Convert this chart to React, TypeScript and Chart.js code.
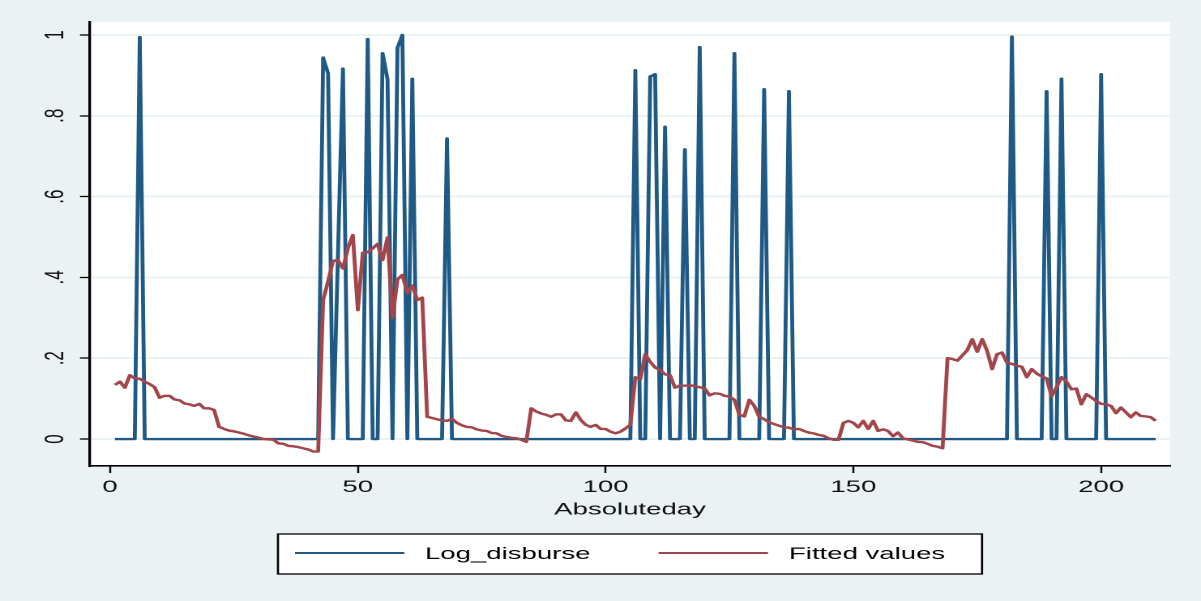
import React, { useEffect, useRef } from 'react';
import { Chart, registerables } from 'chart.js';

Chart.register(...registerables);

// Absoluteday of every observation
const days: number[] = Array.from({ length: 211 }, (_, i) => i + 1);

// Log_disburse, one value per day
const logDisburse: number[] = [
  // 1-10
  0, 0, 0, 0, 0, 0.995, 0, 0, 0, 0,
  // 11-20
  0, 0, 0, 0, 0, 0, 0, 0, 0, 0,
  // 21-30
  0, 0, 0, 0, 0, 0, 0, 0, 0, 0,
  // 31-40
  0, 0, 0, 0, 0, 0, 0, 0, 0, 0,
  // 41-50
  0, 0, 0.944, 0.905, 0, 0.46, 0.917, 0, 0, 0,
  // 51-60
  0, 0.99, 0, 0, 0.955, 0.89, 0, 0.968, 1.0, 0,
  // 61-70
  0.892, 0, 0, 0, 0, 0, 0, 0.744, 0, 0,
  // 71-80
  0, 0, 0, 0, 0, 0, 0, 0, 0, 0,
  // 81-90
  0, 0, 0, 0, 0, 0, 0, 0, 0, 0,
  // 91-100
  0, 0, 0, 0, 0, 0, 0, 0, 0, 0,
  // 101-110
  0, 0, 0, 0, 0, 0.913, 0, 0, 0.897, 0.903,
  // 111-120
  0, 0.773, 0, 0, 0, 0.717, 0, 0, 0.97, 0,
  // 121-130
  0, 0, 0, 0, 0, 0.955, 0, 0, 0, 0,
  // 131-140
  0, 0.866, 0, 0, 0, 0, 0.861, 0, 0, 0,
  // 141-150
  0, 0, 0, 0, 0, 0, 0, 0, 0, 0,
  // 151-160
  0, 0, 0, 0, 0, 0, 0, 0, 0, 0,
  // 161-170
  0, 0, 0, 0, 0, 0, 0, 0, 0, 0,
  // 171-180
  0, 0, 0, 0, 0, 0, 0, 0, 0, 0,
  // 181-190
  0, 0.996, 0, 0, 0, 0, 0, 0, 0.861, 0,
  // 191-200
  0, 0.892, 0, 0, 0, 0, 0, 0, 0, 0.903,
  // 201-210
  0, 0, 0, 0, 0, 0, 0, 0, 0, 0,
  // 211
  0,
];

// Fitted values, one value per day
const fittedValues: number[] = [
  // 1-10
  0.134, 0.142, 0.127, 0.158, 0.150, 0.149, 0.142, 0.136, 0.128, 0.102,
  // 11-20
  0.107, 0.107, 0.098, 0.096, 0.088, 0.086, 0.082, 0.087, 0.076, 0.076,
  // 21-30
  0.072, 0.030, 0.025, 0.021, 0.019, 0.016, 0.013, 0.009, 0.006, 0.003,
  // 31-40
  0.000, -0.001, -0.002, -0.011, -0.012, -0.017, -0.018, -0.020, -0.023, -0.026,
  // 41-50
  -0.031, -0.031, 0.344, 0.390, 0.441, 0.443, 0.422, 0.472, 0.505, 0.319,
  // 51-60
  0.461, 0.462, 0.472, 0.483, 0.443, 0.499, 0.299, 0.395, 0.406, 0.361,
  // 61-70
  0.380, 0.344, 0.350, 0.055, 0.052, 0.049, 0.046, 0.045, 0.050, 0.040,
  // 71-80
  0.034, 0.030, 0.029, 0.024, 0.021, 0.020, 0.015, 0.014, 0.008, 0.005,
  // 81-90
  0.003, 0.002, -0.002, -0.007, 0.076, 0.068, 0.063, 0.060, 0.055, 0.061,
  // 91-100
  0.061, 0.046, 0.045, 0.066, 0.047, 0.035, 0.030, 0.035, 0.025, 0.025,
  // 101-110
  0.018, 0.014, 0.018, 0.026, 0.035, 0.153, 0.148, 0.210, 0.191, 0.177,
  // 111-120
  0.171, 0.160, 0.158, 0.127, 0.132, 0.132, 0.133, 0.131, 0.128, 0.125,
  // 121-130
  0.108, 0.113, 0.112, 0.107, 0.105, 0.097, 0.060, 0.056, 0.097, 0.082,
  // 131-140
  0.055, 0.049, 0.041, 0.037, 0.033, 0.029, 0.028, 0.024, 0.025, 0.020,
  // 141-150
  0.016, 0.014, 0.010, 0.008, 0.002, -0.002, -0.002, 0.040, 0.045, 0.040,
  // 151-160
  0.029, 0.045, 0.025, 0.045, 0.020, 0.024, 0.020, 0.007, 0.016, 0.002,
  // 161-170
  -0.001, -0.004, -0.007, -0.008, -0.012, -0.017, -0.019, -0.023, 0.200, 0.198,
  // 171-180
  0.194, 0.207, 0.220, 0.247, 0.216, 0.247, 0.218, 0.173, 0.210, 0.214,
  // 181-190
  0.189, 0.186, 0.181, 0.179, 0.153, 0.173, 0.162, 0.155, 0.150, 0.106,
  // 191-200
  0.128, 0.153, 0.142, 0.123, 0.125, 0.086, 0.111, 0.103, 0.094, 0.087,
  // 201-210
  0.086, 0.082, 0.064, 0.078, 0.066, 0.054, 0.066, 0.057, 0.056, 0.054,
  // 211
  0.045,
];

const seriesNames = ['Log_disburse', 'Fitted values'];
const xAxisTitle = 'Absoluteday';
const xTickValues = [0, 50, 100, 150, 200];
const yTickValues = [0, 0.2, 0.4, 0.6, 0.8, 1];
const yTickLabels = ['0', '.2', '.4', '.6', '.8', '1'];

const NAVY = '#1e5a85';
const MAROON = '#a3464b';
const BG = '#eaf2f3';
const FONT = '"Liberation Sans", Arial, Helvetica, sans-serif';
const SERIES_WIDTH = 2.4;

// The graph is laid out on a 741-unit-wide canvas shown 1201 px wide,
// which gives the wide, horizontally stretched look of the exported graph.
const LOGICAL_W = 741;
const LOGICAL_H = 601;
const SX = 1201 / LOGICAL_W;

const backgroundPlugin = {
  id: 'graphBackground',
  beforeDraw(chart: any) {
    const { ctx, chartArea, width, height } = chart;
    ctx.save();
    ctx.fillStyle = BG;
    ctx.fillRect(0, 0, width, height);
    ctx.fillStyle = '#ffffff';
    ctx.fillRect(
      chartArea.left,
      chartArea.top,
      chartArea.right - chartArea.left,
      chartArea.bottom - chartArea.top
    );
    ctx.restore();
  },
};

// Boxed legend centred under the plot region
const legendBoxPlugin = {
  id: 'legendBox',
  afterDraw(chart: any) {
    const { ctx, chartArea } = chart;
    const cx = (chartArea.left + chartArea.right) / 2;
    const top = 534;
    const bottom = 574;
    const halfW = 217.2;
    ctx.save();
    ctx.fillStyle = '#ffffff';
    ctx.fillRect(cx - halfW, top, halfW * 2, bottom - top);
    ctx.strokeStyle = '#000000';
    ctx.lineWidth = 1.3;
    ctx.strokeRect(cx - halfW, top, halfW * 2, bottom - top);

    const keys = [
      { lineFrom: -206.7, textAt: -126.5 },
      { lineFrom: 17.6, textAt: 98.1 },
    ];
    const keyLen = 67.5;
    chart.data.datasets.forEach((ds: any, i: number) => {
      const k = keys[i];
      ctx.strokeStyle = ds.borderColor;
      ctx.lineWidth = 2.1;
      ctx.beginPath();
      ctx.moveTo(cx + k.lineFrom, 553);
      ctx.lineTo(cx + k.lineFrom + keyLen, 553);
      ctx.stroke();
      ctx.fillStyle = '#000000';
      ctx.font = `17px ${FONT}`;
      ctx.textAlign = 'left';
      ctx.textBaseline = 'alphabetic';
      ctx.fillText(ds.label, cx + k.textAt, 559);
    });
    ctx.restore();
  },
};

export default function App() {
  const canvasRef = useRef<HTMLCanvasElement | null>(null);

  useEffect(() => {
    const canvas = canvasRef.current;
    if (!canvas) return;

    const chart = new Chart(canvas, {
      type: 'line',
      data: {
        datasets: [
          {
            label: seriesNames[0],
            data: days.map((d, i) => ({ x: d, y: logDisburse[i] })),
            borderColor: NAVY,
            backgroundColor: NAVY,
            borderWidth: SERIES_WIDTH,
            pointRadius: 0,
            tension: 0,
            borderJoinStyle: 'round',
            order: 2,
          },
          {
            label: seriesNames[1],
            data: days.map((d, i) => ({ x: d, y: fittedValues[i] })),
            borderColor: MAROON,
            backgroundColor: MAROON,
            borderWidth: SERIES_WIDTH,
            pointRadius: 0,
            tension: 0,
            borderJoinStyle: 'round',
            order: 1,
          },
        ],
      },
      options: {
        responsive: false,
        maintainAspectRatio: false,
        animation: false,
        devicePixelRatio: 2,
        events: [],
        layout: {
          padding: { left: 0, right: LOGICAL_W - 1170 / SX, top: 22, bottom: 0 },
        },
        plugins: {
          legend: { display: false },
          tooltip: { enabled: false },
          title: { display: false },
        },
        scales: {
          x: {
            type: 'linear',
            position: 'bottom',
            min: -4.04,
            max: 213.9,
            afterBuildTicks: (axis: any) => {
              axis.ticks = xTickValues.map((v) => ({ value: v }));
            },
            afterFit: (scale: any) => {
              scale.height = 135;
            },
            grid: {
              display: true,
              drawOnChartArea: false,
              drawTicks: true,
              tickLength: 7,
              tickWidth: 1.2,
              tickColor: '#000000',
            },
            border: { display: true, color: '#000000', width: 1.6 },
            ticks: {
              autoSkip: false,
              maxRotation: 0,
              padding: 4,
              color: '#111111',
              font: { family: FONT, size: 17 },
            },
            title: {
              display: true,
              text: xAxisTitle,
              color: '#111111',
              font: { family: FONT, size: 17 },
              padding: { top: 0, bottom: 81 },
            },
          },
          y: {
            type: 'linear',
            position: 'left',
            min: -0.0668,
            max: 1.0322,
            afterBuildTicks: (axis: any) => {
              axis.ticks = yTickValues.map((v) => ({ value: v }));
            },
            afterFit: (scale: any) => {
              scale.width = 90 / SX;
            },
            grid: {
              display: true,
              drawOnChartArea: true,
              color: BG,
              lineWidth: 2,
              drawTicks: true,
              tickLength: 6.2,
              tickWidth: 1.3,
              tickColor: '#000000',
            },
            border: { display: true, color: '#000000', width: 1.65 },
            ticks: {
              autoSkip: false,
              minRotation: 90,
              maxRotation: 90,
              crossAlign: 'center',
              padding: 8,
              color: '#111111',
              font: { family: FONT, size: 17 },
              callback: (value: any) => yTickLabels[yTickValues.indexOf(Number(value))],
            },
          },
        },
      },
      plugins: [backgroundPlugin, legendBoxPlugin],
    } as any);

    return () => {
      chart.destroy();
    };
  }, []);

  return (
    <div
      style={{
        position: 'absolute',
        left: 0,
        top: 0,
        width: '1201px',
        height: '601px',
        background: BG,
      }}
    >
      <canvas
        ref={canvasRef}
        width={LOGICAL_W}
        height={LOGICAL_H}
        style={{ display: 'block', width: '1201px', height: '601px' }}
      />
    </div>
  );
}
